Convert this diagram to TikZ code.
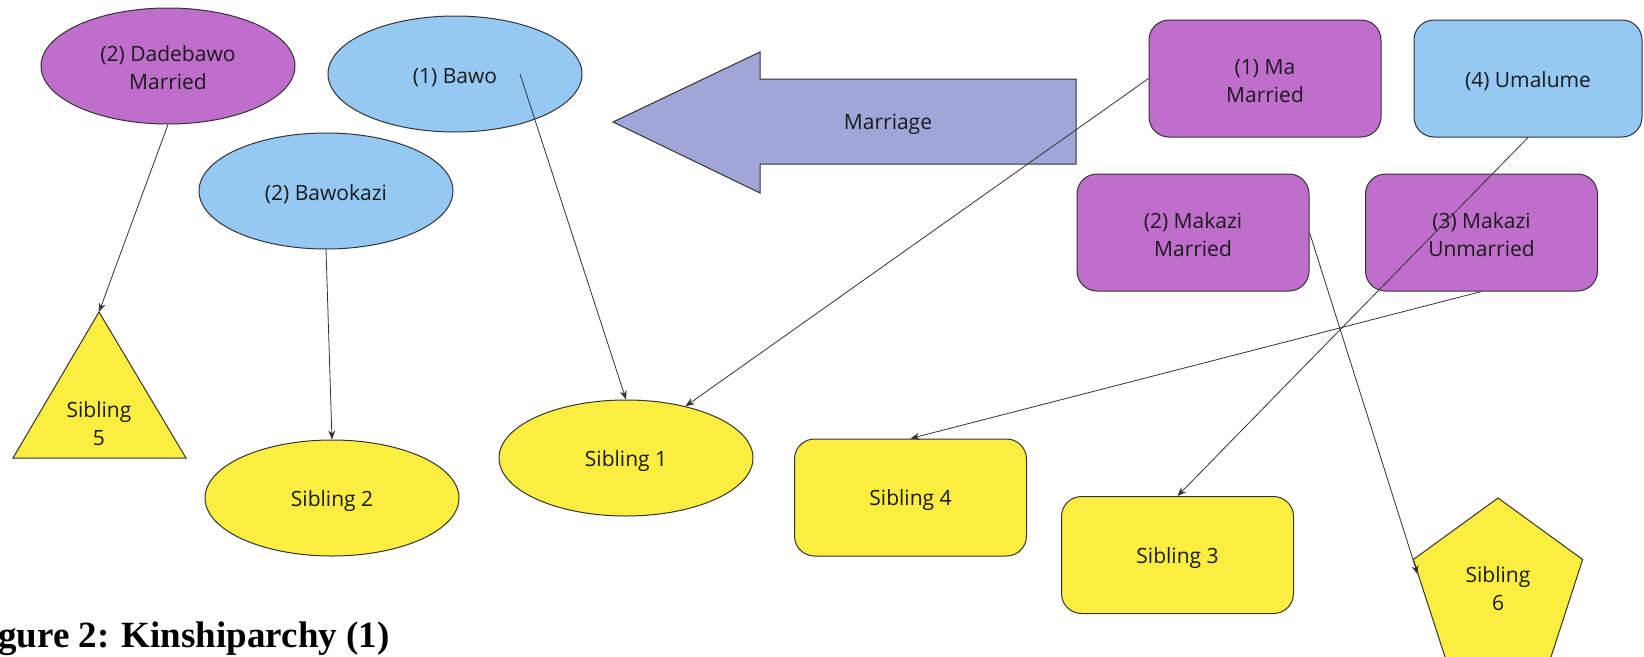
\documentclass[tikz,border=0pt]{standalone}
\usepackage{fontspec}
\setmainfont{Open Sans}
\newfontfamily\capfont{Liberation Serif}
\usetikzlibrary{shapes.geometric,arrows.meta,calc}
\definecolor{purp}{RGB}{191,110,204}
\definecolor{lblue}{RGB}{149,200,242}
\definecolor{yel}{RGB}{251,238,64}
\definecolor{lav}{RGB}{160,166,216}
\definecolor{edgec}{RGB}{51,51,51}
\definecolor{ink}{RGB}{26,26,26}
\begin{document}
\begin{tikzpicture}[x=1pt,y=-1pt,
  base/.style={draw=edgec, line width=1pt, text=ink, font=\fontsize{21}{28}\selectfont, align=center, inner sep=0pt,
    text height=22pt},
  twoline/.style={text height=48pt},
  oval/.style={base, ellipse, minimum width=254pt, minimum height=116pt},
  rbox/.style={base, rectangle, rounded corners=20pt, minimum width=232pt, minimum height=117pt},
  link/.style={draw=edgec, line width=0.8pt, -{Stealth[length=9pt,width=7pt]}}
]
\clip (0,0) rectangle (1644,656);
\fill[white] (0,0) rectangle (1644,656);

% big arrow
\path[draw=edgec, line width=1pt, fill=lav] (613,122) -- (760,52) -- (760,79) -- (1076,79) -- (1076,164) -- (760,164) -- (760,193) -- cycle;
\node[base, draw=none] (marriage) at (888,121) {Marriage};

% ellipses
\node[oval, twoline, fill=purp] (dade) at (168,66) {(2) Dadebawo\\Married};
\node[oval, fill=lblue] (bawo) at (455,74) {(1) Bawo};
\node[oval, fill=lblue] (bawokazi) at (326,191) {(2) Bawokazi};
\node[oval, fill=yel] (s2) at (332,498) {Sibling 2};
\node[oval, fill=yel] (s1) at (626,458) {Sibling 1};

% triangle
\path[draw=edgec, line width=1pt, fill=yel] (99,312) -- (186,458) -- (13,458) -- cycle;
\coordinate (s5top) at (99,312);
\node[base, twoline, draw=none] (s5) at (99,422) {Sibling\\5};

% rounded boxes
\node[rbox, twoline, fill=purp] (ma) at (1265,78.5) {(1) Ma\\Married};
\node[rbox, fill=lblue, minimum width=228pt] (uma) at (1528,78.5) {(4) Umalume};
\node[rbox, twoline, fill=purp] (mk2) at (1193,232.5) {(2) Makazi\\Married};
\node[rbox, twoline, fill=purp] (mk3) at (1481.5,232.5) {(3) Makazi\\Unmarried};
\node[rbox, fill=yel] (s4) at (910.5,497.5) {Sibling 4};
\node[rbox, fill=yel] (s3) at (1177.5,555) {Sibling 3};
\node[base, twoline, regular polygon, regular polygon sides=5, minimum size=178pt, fill=yel] (s6) at (1498,587) {Sibling\\6};

% connectors
\draw[link] (dade.south) -- (s5top);
\draw[link] (bawokazi.south) -- (s2.north);
\draw[link] ([xshift=65pt]bawo.center) -- (s1.north);
\draw[link] (ma.west) -- (s1.41);
\draw[link] (uma.south) -- (s3.north);
\draw[link] (mk2.east) -- ($(s6.corner 2)!0.15!(s6.corner 3)$);
\draw[link] (mk3.south) -- (s4.north);

% caption
\node[anchor=base west, inner sep=0pt, font=\capfont\bfseries\fontsize{37}{40}\selectfont, text=black] (cap) at (-2,647) {gure 2: Kinshiparchy (1)};
\end{tikzpicture}
\end{document}
